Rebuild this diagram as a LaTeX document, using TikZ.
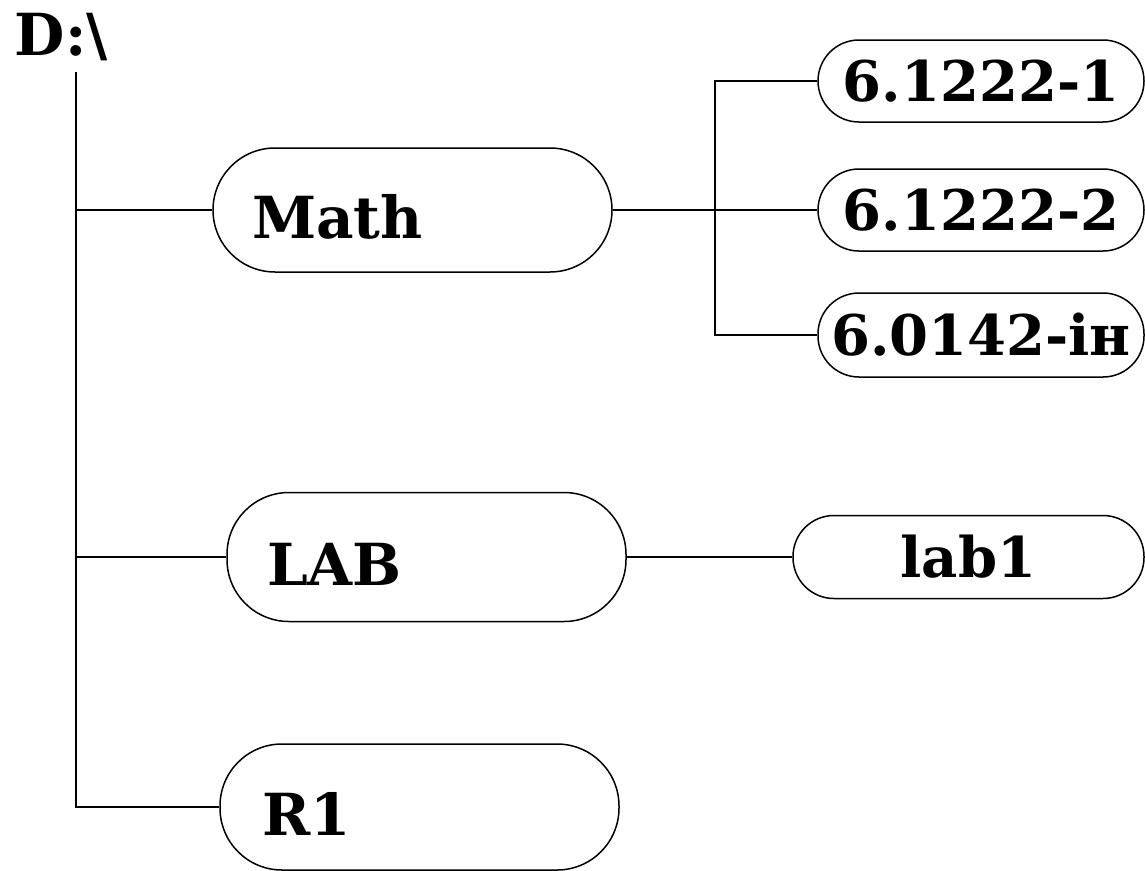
\documentclass[tikz,border=0pt]{standalone}
\usepackage{fontspec}
\setmainfont{DejaVu Serif}
\begin{document}
\begin{tikzpicture}[x=1pt,y=-1pt,line width=1.5pt,
  bigbox/.style={draw, rounded corners=62pt, minimum height=124pt, inner ysep=0pt,
    text height=56pt, text depth=0pt,
    align=left, font=\fontsize{58}{60}\selectfont\bfseries},
  smallbox/.style={draw, rounded corners=41pt, minimum width=326pt, minimum height=82pt,
    inner sep=0pt, font=\fontsize{56}{58}\selectfont\bfseries},
  conn/.style={line width=1.5pt}]
\useasboundingbox (0,0) rectangle (1145,870);
\node[anchor=base west, inner sep=0pt, font=\fontsize{58}{60}\selectfont\bfseries] (root) at (14,55) {D:\textbackslash};
\node[bigbox, inner xsep=39pt, text width=321pt] (math) at (412.5,210) {Math};
\node[bigbox, inner xsep=40pt, text width=319pt, minimum height=129pt] (lab) at (426.5,557) {LAB};
\node[bigbox, inner xsep=42pt, text width=315pt, minimum height=126pt] (r1) at (419.5,807) {R1};
\node[smallbox] (b1) at (981,81) {6.1222-1};
\node[smallbox] (b2) at (981,210) {6.1222-2};
\node[smallbox, minimum height=84pt] (b3) at (981,335) {6.0142-ін};
\node[smallbox, minimum width=351pt, minimum height=83pt] (lab1) at (968.5,557) {lab1};
\coordinate (top) at (76,72);
\coordinate (jx) at (715,0);
\draw[conn] (top) |- (r1.west);
\draw[conn] (top |- math.west) -- (math.west);
\draw[conn] (top |- lab.west) -- (lab.west);
\draw[conn] (math.east) -- (b2.west);
\draw[conn] (b1.west) -| (jx |- b3.west) -- (b3.west);
\draw[conn] (lab.east) -- (lab1.west);
\end{tikzpicture}
\end{document}
